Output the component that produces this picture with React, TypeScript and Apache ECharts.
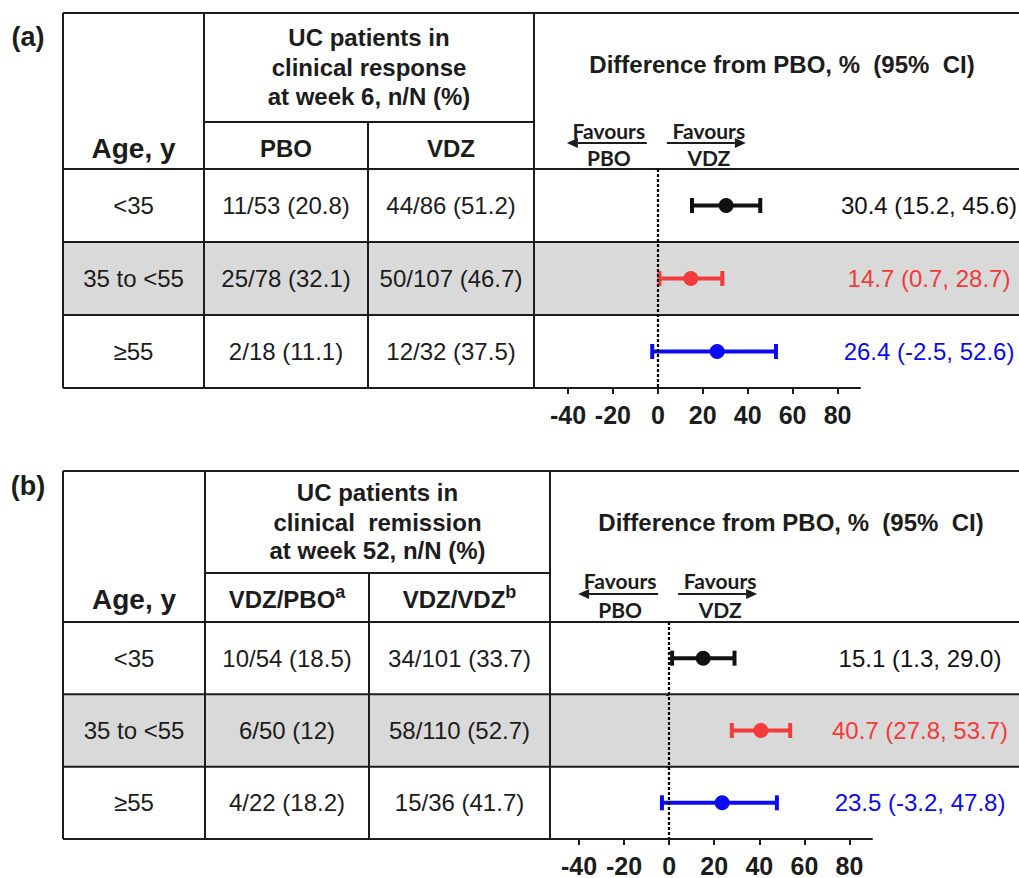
import React, { useEffect, useRef } from 'react';
import * as echarts from 'echarts';

// ---------------- data ----------------
const ageGroups = ['<35', '35 to <55', '≥55'];
const rowColors = ['#111111', '#f43a3a', '#0b0bf2'];
const xTicks = [-40, -20, 0, 20, 40, 60, 80];
const diffTitle = 'Difference from PBO, %  (95%  CI)';

// panel (a)
const aTitle = ['UC patients in', 'clinical response', 'at week 6, n/N (%)'];
const aCols = ['PBO', 'VDZ'];
const aSup = ['', ''];
const aCol1 = ['11/53 (20.8)', '25/78 (32.1)', '2/18 (11.1)'];
const aCol2 = ['44/86 (51.2)', '50/107 (46.7)', '12/32 (37.5)'];
const aDiff = [30.4, 14.7, 26.4];
const aLow = [15.2, 0.7, -2.5];
const aHigh = [45.6, 28.7, 52.6];

// panel (b)
const bTitle = ['UC patients in', 'clinical  remission', 'at week 52, n/N (%)'];
const bCols = ['VDZ/PBO', 'VDZ/VDZ'];
const bSup = ['a', 'b'];
const bCol1 = ['10/54 (18.5)', '6/50 (12)', '4/22 (18.2)'];
const bCol2 = ['34/101 (33.7)', '58/110 (52.7)', '15/36 (41.7)'];
const bDiff = [15.1, 40.7, 23.5];
const bLow = [1.3, 27.8, -3.2];
const bHigh = [29.0, 53.7, 47.8];

// ---------------- layout ----------------
const W = 1019;
const H = 878;
const FONT = '"Liberation Sans", Arial, Helvetica, sans-serif';
const FAV_FONT = 'Lato, "Open Sans", sans-serif';
const INK = '#1c1c1c';
const GRAY = '#d9d9d9';
const X_MIN = -40;
const X_MAX = 90;

const panels = [
  {
    tag: '(a)', tagY: 37, title: aTitle, titleY: [37, 67, 96], cols: aCols, sup: aSup,
    col1: aCol1, col2: aCol2, diff: aDiff, low: aLow, high: aHigh,
    top: 13, ucLine: 122, head: 169, bottom: 388,
    x0: 63, x1: 204, x2: 368, x3: 534, axL: 568, axR: 860,
    subY: 148, diffX: 782, diffY: 64, favTopY: 130, arrowY: 143, favBotY: 157, lblX: 929,
  },
  {
    tag: '(b)', tagY: 486, title: bTitle, titleY: [492, 522, 550], cols: bCols, sup: bSup,
    col1: bCol1, col2: bCol2, diff: bDiff, low: bLow, high: bHigh,
    top: 471, ucLine: 573, head: 622, bottom: 839,
    x0: 63, x1: 205, x2: 369, x3: 550, axL: 579, axR: 872,
    subY: 599, diffX: 791, diffY: 522, favTopY: 580, arrowY: 594, favBotY: 609, lblX: 920,
  },
];

function ln(x1: number, y1: number, x2: number, y2: number, w = 2) {
  return { type: 'line', silent: true, shape: { x1, y1, x2, y2 }, style: { stroke: INK, lineWidth: w } };
}

function tx(text: string, x: number, y: number, size: number, bold: boolean, family = FONT, fill = INK) {
  return {
    type: 'text', silent: true, x, y,
    style: {
      text, fill,
      font: `${bold ? 'bold ' : ''}${size}px ${family}`,
      textAlign: 'center', textVerticalAlign: 'middle', align: 'center', verticalAlign: 'middle',
    },
  };
}

function supText(main: string, sup: string, x: number, y: number) {
  const text = sup ? `{m|${main}}{s|${sup}}` : `{m|${main}}`;
  return {
    type: 'text', silent: true, x, y,
    style: {
      text,
      rich: {
        m: { fontSize: 24, fontWeight: 'bold', fontFamily: FONT, fill: INK, color: INK, lineHeight: 32 },
        s: { fontSize: 18, fontWeight: 'bold', fontFamily: FONT, fill: INK, color: INK, lineHeight: 12, verticalAlign: 'top' },
      },
      textAlign: 'center', textVerticalAlign: 'middle', align: 'center', verticalAlign: 'middle',
    },
  };
}

function arrow(xFrom: number, xTo: number, y: number) {
  const dir = xTo > xFrom ? 1 : -1;
  const tipBase = xTo - dir * 11;
  return [
    ln(xFrom, y, tipBase, y, 2),
    {
      type: 'polygon', silent: true,
      shape: { points: [[xTo, y], [tipBase, y - 5], [tipBase, y + 5]] },
      style: { fill: INK },
    },
  ];
}

function panelGraphics(p: any) {
  const rowH = (p.bottom - p.head) / 3;
  const els: any[] = [];
  // gray middle row
  els.push({ type: 'rect', silent: true, shape: { x: p.x0, y: p.head + rowH, width: W - p.x0, height: rowH }, style: { fill: GRAY } });
  // frame
  els.push(ln(p.x0, p.top, W, p.top));
  els.push(ln(p.x0, p.top, p.x0, p.bottom));
  els.push(ln(p.x1, p.top, p.x1, p.bottom));
  els.push(ln(p.x2, p.ucLine, p.x2, p.bottom));
  els.push(ln(p.x3, p.top, p.x3, p.bottom));
  els.push(ln(p.x1, p.ucLine, p.x3, p.ucLine));
  els.push(ln(p.x0, p.head, W, p.head));
  els.push(ln(p.x0, p.head + rowH, W, p.head + rowH));
  els.push(ln(p.x0, p.head + 2 * rowH, W, p.head + 2 * rowH));
  els.push(ln(p.x0, p.bottom, p.axL, p.bottom));
  // labels
  els.push(tx(p.tag, 28, p.tagY, 27, true));
  els.push(tx('Age, y', (p.x0 + p.x1) / 2, p.subY, 28, true));
  p.title.forEach((t: string, i: number) => els.push(tx(t, (p.x1 + p.x3) / 2, p.titleY[i], 24, true)));
  els.push(supText(p.cols[0], p.sup[0], (p.x1 + p.x2) / 2, p.subY));
  els.push(supText(p.cols[1], p.sup[1], (p.x2 + p.x3) / 2, p.subY));
  els.push(tx(diffTitle, p.diffX, p.diffY, 24, true));
  // favours arrows
  const zero = p.axL + ((0 - X_MIN) / (X_MAX - X_MIN)) * (p.axR - p.axL);
  const lc = zero - 49;
  const rc = zero + 51;
  els.push(tx('Favours', lc, p.favTopY, 21, true, FAV_FONT));
  els.push(tx('PBO', lc, p.favBotY, 21, true, FAV_FONT));
  els.push(...arrow(zero - 11, zero - 91, p.arrowY));
  els.push(tx('Favours', rc, p.favTopY, 21, true, FAV_FONT));
  els.push(tx('VDZ', rc, p.favBotY, 21, true, FAV_FONT));
  els.push(...arrow(zero + 9, zero + 88, p.arrowY));
  // table cells
  ageGroups.forEach((g, i) => {
    const cy = p.head + rowH * (i + 0.5);
    els.push(tx(g, (p.x0 + p.x1) / 2, cy, 24, false));
    els.push(tx(p.col1[i], (p.x1 + p.x2) / 2, cy, 24, false));
    els.push(tx(p.col2[i], (p.x2 + p.x3) / 2, cy, 24, false));
  });
  return els;
}

function buildOption() {
  const grid: any[] = [];
  const xAxis: any[] = [];
  const yAxis: any[] = [];
  const series: any[] = [];
  const graphic: any[] = [];

  panels.forEach((p, gi) => {
    graphic.push(...panelGraphics(p));
    grid.push({ left: p.axL, top: p.head, width: p.axR - p.axL, height: p.bottom - p.head, containLabel: false });
    xAxis.push({
      type: 'value', gridIndex: gi, min: X_MIN, max: X_MAX, position: 'bottom',
      axisLine: { show: true, lineStyle: { color: INK, width: 2 } },
      axisTick: { show: true, length: 6, customValues: xTicks, lineStyle: { color: INK, width: 2 } },
      axisLabel: { customValues: xTicks, fontSize: 25, fontWeight: 'bold', fontFamily: FONT, color: INK, margin: 14 },
      splitLine: { show: false },
    });
    yAxis.push({
      type: 'category', gridIndex: gi, data: ageGroups, inverse: true,
      axisLine: { show: false },
      axisTick: { show: true, length: 3, lineStyle: { color: INK, width: 2 } },
      axisLabel: { show: false },
      splitLine: { show: false },
    });
    const lblX = p.lblX;
    series.push({
      type: 'custom', xAxisIndex: gi, yAxisIndex: gi, silent: true,
      encode: { x: [1, 2, 3], y: 0 },
      data: p.diff.map((d: number, i: number) => [i, p.low[i], p.high[i], d]),
      renderItem: (params: any, api: any) => {
        const idx = api.value(0);
        const lo = api.coord([api.value(1), idx]);
        const hi = api.coord([api.value(2), idx]);
        const c = rowColors[idx];
        const lw = 4;
        const cap = 7.5;
        const txt = `${api.value(3).toFixed(1)} (${api.value(1).toFixed(1)}, ${api.value(2).toFixed(1)})`;
        return {
          type: 'group',
          children: [
            { type: 'line', shape: { x1: lo[0], y1: lo[1], x2: hi[0], y2: hi[1] }, style: { stroke: c, lineWidth: lw } },
            { type: 'line', shape: { x1: lo[0], y1: lo[1] - cap, x2: lo[0], y2: lo[1] + cap }, style: { stroke: c, lineWidth: lw } },
            { type: 'line', shape: { x1: hi[0], y1: hi[1] - cap, x2: hi[0], y2: hi[1] + cap }, style: { stroke: c, lineWidth: lw } },
            {
              type: 'text', x: lblX, y: lo[1],
              style: {
                text: txt, fill: c, font: `24px ${FONT}`,
                textAlign: 'center', textVerticalAlign: 'middle', align: 'center', verticalAlign: 'middle',
              },
            },
          ],
        };
      },
    });
    series.push({
      type: 'scatter', xAxisIndex: gi, yAxisIndex: gi, silent: true,
      symbol: 'circle', symbolSize: 15,
      itemStyle: { opacity: 1 },
      data: p.diff.map((d: number, i: number) => ({ value: [d, i], itemStyle: { color: rowColors[i], opacity: 1 } })),
      markLine: {
        silent: true, symbol: ['none', 'none'], label: { show: false },
        lineStyle: { color: '#000', type: [3, 2], width: 2.2, opacity: 1 },
        emphasis: { disabled: true },
        data: [{ xAxis: 0 }],
      },
      z: 5,
    });
  });

  return {
    animation: false,
    backgroundColor: '#ffffff',
    grid, xAxis, yAxis, series, graphic,
  };
}

export default function App() {
  const ref = useRef<HTMLDivElement>(null);
  useEffect(() => {
    if (!ref.current) return;
    const chart = echarts.init(ref.current, null, { renderer: 'svg', width: W, height: H });
    chart.setOption(buildOption() as any);
    return () => chart.dispose();
  }, []);
  return (
    <div
      ref={ref}
      style={{ position: 'absolute', left: 0, top: 0, width: W, height: H, background: '#fff' }}
    />
  );
}
